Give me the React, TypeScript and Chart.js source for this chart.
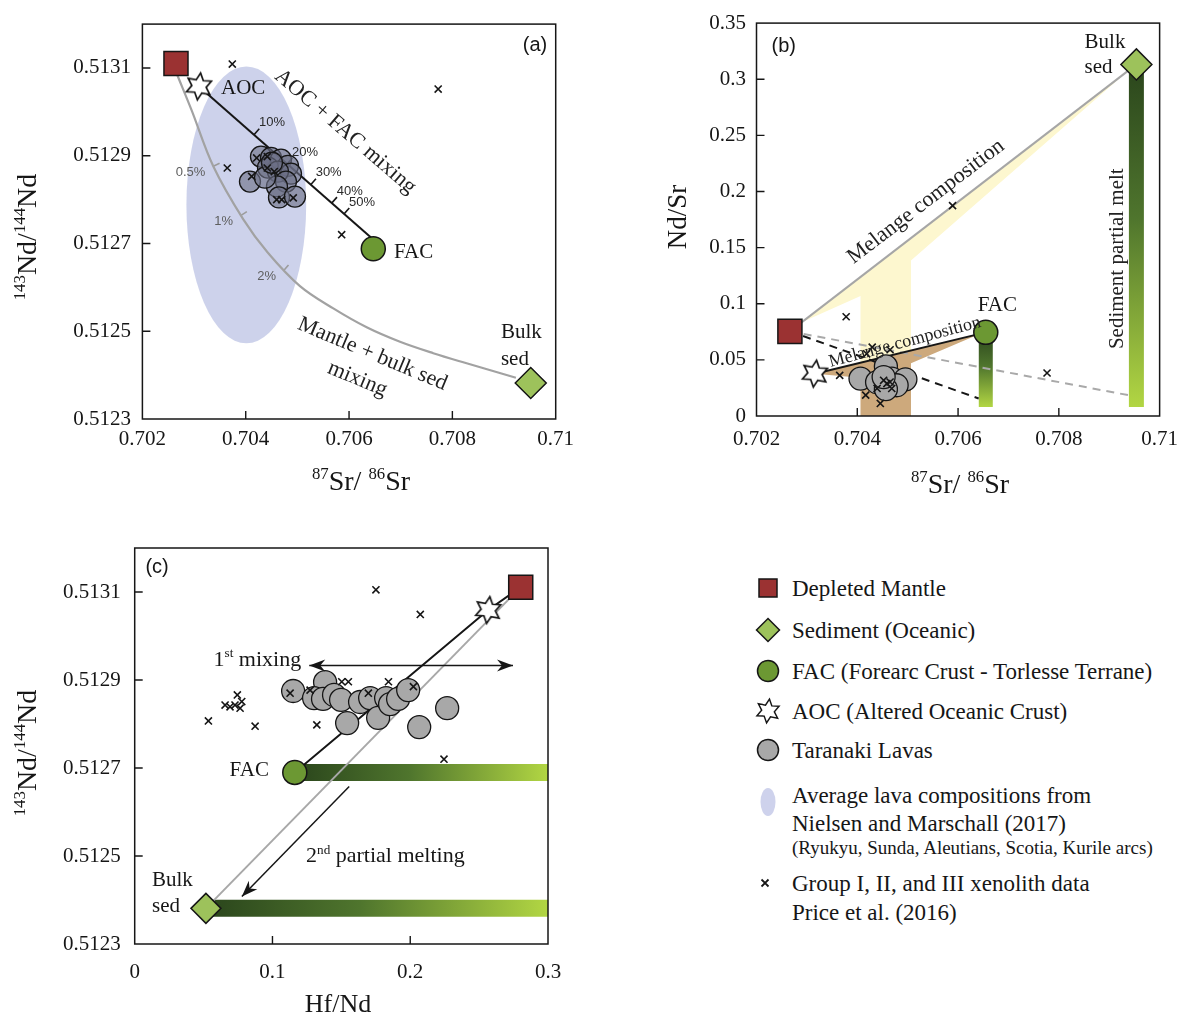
import React, { useEffect, useRef } from 'react';
import { Chart, registerables } from 'chart.js';

Chart.register(...registerables);

type Pt = { x: number; y: number };
type Mark = { x: number; y: number; label: string };

const SERIF = '"Liberation Serif", "Times New Roman", serif';
const SANS = '"Liberation Sans", Arial, sans-serif';
const INK = '#161616';

// ================= Panel (a): 87Sr/86Sr vs 143Nd/144Nd =================
const A_X_RANGE = [0.702, 0.71];
const A_Y_RANGE = [0.5123, 0.5132];
const A_X_TICKS = [0.702, 0.704, 0.706, 0.708, 0.71];
const A_Y_TICKS = [0.5123, 0.5125, 0.5127, 0.5129, 0.5131];
const A_DEPLETED_MANTLE: Pt[] = [{ x: 0.70265, y: 0.51311 }];
const A_SEDIMENT: Pt[] = [{ x: 0.709517, y: 0.512382 }];
const A_FAC: Pt[] = [{ x: 0.706469, y: 0.512688 }];
const A_AOC: Pt[] = [{ x: 0.703095, y: 0.513058 }];
const A_AOC_FAC_MIXING: Pt[] = [
  { x: 0.703095, y: 0.513058 },
  { x: 0.706469, y: 0.512709 },
];
const A_AOC_FAC_MARKS: Mark[] = [
  { x: 0.70416, y: 0.512948, label: '10%' },
  { x: 0.704799, y: 0.512881, label: '20%' },
  { x: 0.705257, y: 0.512834, label: '30%' },
  { x: 0.705664, y: 0.512792, label: '40%' },
  { x: 0.705902, y: 0.512767, label: '50%' },
];
const A_MANTLE_SED_MIXING: Pt[] = [
  { x: 0.702675, y: 0.513084 },
  { x: 0.702948, y: 0.513005 },
  { x: 0.703372, y: 0.512876 },
  { x: 0.703953, y: 0.512755 },
  { x: 0.704429, y: 0.512679 },
  { x: 0.70505, y: 0.512603 },
  { x: 0.705695, y: 0.512552 },
  { x: 0.706341, y: 0.512509 },
  { x: 0.706986, y: 0.512476 },
  { x: 0.70763, y: 0.51245 },
  { x: 0.708276, y: 0.512427 },
  { x: 0.70923, y: 0.512394 },
];
const A_MANTLE_SED_MARKS: Mark[] = [
  { x: 0.703372, y: 0.512876, label: '0.5%' },
  { x: 0.703908, y: 0.512764, label: '1%' },
  { x: 0.70474, y: 0.512639, label: '2%' },
];
const A_ARC_FIELD_CENTER: Pt = { x: 0.704011, y: 0.512788 };
const A_ARC_FIELD_HALF_WIDTHS: Pt = { x: 0.001159, y: 0.0003155 };
const A_LAVAS: Pt[] = [
  { x: 0.704295, y: 0.512898 },
  { x: 0.704489, y: 0.512895 },
  { x: 0.704682, y: 0.512891 },
  { x: 0.704818, y: 0.512877 },
  { x: 0.704876, y: 0.512859 },
  { x: 0.704431, y: 0.512873 },
  { x: 0.704624, y: 0.512864 },
  { x: 0.704779, y: 0.512841 },
  { x: 0.704082, y: 0.512841 },
  { x: 0.704605, y: 0.51283 },
  { x: 0.704373, y: 0.51285 },
  { x: 0.704644, y: 0.512805 },
  { x: 0.704953, y: 0.512807 },
  { x: 0.704508, y: 0.512884 },
];
const A_XENOLITHS: Pt[] = [
  { x: 0.70374, y: 0.513109 },
  { x: 0.707725, y: 0.513052 },
  { x: 0.703643, y: 0.512872 },
  { x: 0.705857, y: 0.51272 },
  { x: 0.704212, y: 0.512895 },
  { x: 0.704417, y: 0.512898 },
  { x: 0.704115, y: 0.512853 },
  { x: 0.704417, y: 0.512872 },
  { x: 0.704553, y: 0.512864 },
  { x: 0.704599, y: 0.5128 },
  { x: 0.704696, y: 0.5128 },
  { x: 0.70492, y: 0.512804 },
];

// ================= Panel (b): 87Sr/86Sr vs Nd/Sr =================
const B_X_RANGE = [0.702, 0.71];
const B_Y_RANGE = [0, 0.35];
const B_X_TICKS = [0.702, 0.704, 0.706, 0.708, 0.71];
const B_Y_TICKS = [0, 0.05, 0.1, 0.15, 0.2, 0.25, 0.3, 0.35];
const B_DEPLETED_MANTLE: Pt[] = [{ x: 0.702663, y: 0.0754 }];
const B_SEDIMENT: Pt[] = [{ x: 0.709539, y: 0.3132 }];
const B_FAC: Pt[] = [{ x: 0.70655, y: 0.0745 }];
const B_AOC: Pt[] = [{ x: 0.703159, y: 0.0377 }];
const B_SED_MELANGE_FIELD: Pt[] = [
  { x: 0.702888, y: 0.0832 },
  { x: 0.7094, y: 0.3084 },
  { x: 0.705066, y: 0.1385 },
  { x: 0.705066, y: 0.045 },
  { x: 0.704064, y: 0.045 },
  { x: 0.704064, y: 0.1069 },
];
const B_FAC_MELANGE_FIELD: Pt[] = [
  { x: 0.703159, y: 0.0377 },
  { x: 0.70645, y: 0.0734 },
  { x: 0.705066, y: 0.047 },
  { x: 0.705066, y: 0 },
  { x: 0.704064, y: 0 },
  { x: 0.704064, y: 0.034 },
];
const B_FAC_MELT_RANGE: Pt[] = [
  { x: 0.70655, y: 0.0745 },
  { x: 0.70655, y: 0.008 },
];
const B_SED_MELT_RANGE: Pt[] = [
  { x: 0.709539, y: 0.3132 },
  { x: 0.709539, y: 0.008 },
];
const B_DM_FAC_MELT_TREND: Pt[] = [
  { x: 0.702663, y: 0.0754 },
  { x: 0.706409, y: 0.0156 },
];
const B_DM_SED_MELT_TREND: Pt[] = [
  { x: 0.702663, y: 0.0754 },
  { x: 0.709374, y: 0.0186 },
];
const B_LAVAS: Pt[] = [
  { x: 0.704064, y: 0.0333 },
  { x: 0.704568, y: 0.0442 },
  { x: 0.704393, y: 0.0301 },
  { x: 0.704684, y: 0.0333 },
  { x: 0.704955, y: 0.0327 },
  { x: 0.704781, y: 0.0274 },
  { x: 0.704568, y: 0.0239 },
  { x: 0.704523, y: 0.0347 },
];
const B_XENOLITHS: Pt[] = [
  { x: 0.703779, y: 0.0884 },
  { x: 0.705891, y: 0.1874 },
  { x: 0.707766, y: 0.0383 },
  { x: 0.703651, y: 0.0362 },
  { x: 0.704186, y: 0.0554 },
  { x: 0.704296, y: 0.0613 },
  { x: 0.704651, y: 0.059 },
  { x: 0.704167, y: 0.0186 },
  { x: 0.704457, y: 0.0112 },
  { x: 0.704523, y: 0.0318 },
  { x: 0.704587, y: 0.0289 },
  { x: 0.704651, y: 0.0303 },
  { x: 0.704393, y: 0.0245 },
  { x: 0.704684, y: 0.0245 },
];

// ================= Panel (c): Hf/Nd vs 143Nd/144Nd =================
const C_X_RANGE = [0, 0.3];
const C_Y_RANGE = [0.5123, 0.5132];
const C_X_TICKS = [0, 0.1, 0.2, 0.3];
const C_Y_TICKS = [0.5123, 0.5125, 0.5127, 0.5129, 0.5131];
const C_DEPLETED_MANTLE: Pt[] = [{ x: 0.2802, y: 0.513111 }];
const C_AOC: Pt[] = [{ x: 0.2566, y: 0.513059 }];
const C_FAC: Pt[] = [{ x: 0.1162, y: 0.51269 }];
const C_SEDIMENT: Pt[] = [{ x: 0.0517, y: 0.512381 }];
const C_FAC_MELT_RANGE: Pt[] = [
  { x: 0.1162, y: 0.51269 },
  { x: 0.3, y: 0.51269 },
];
const C_SED_MELT_RANGE: Pt[] = [
  { x: 0.0517, y: 0.512381 },
  { x: 0.3, y: 0.512381 },
];
const C_FIRST_MIXING: Pt[] = [
  { x: 0.1267, y: 0.512933 },
  { x: 0.2746, y: 0.512933 },
];
const C_SECOND_MELTING: Pt[] = [
  { x: 0.1557, y: 0.512658 },
  { x: 0.0778, y: 0.512408 },
];
const C_LAVAS: Pt[] = [
  { x: 0.115, y: 0.512875 },
  { x: 0.1382, y: 0.512895 },
  { x: 0.1302, y: 0.512859 },
  { x: 0.1367, y: 0.512857 },
  { x: 0.1447, y: 0.512866 },
  { x: 0.1498, y: 0.512855 },
  { x: 0.1542, y: 0.512802 },
  { x: 0.1636, y: 0.51285 },
  { x: 0.1709, y: 0.512859 },
  { x: 0.1767, y: 0.512814 },
  { x: 0.1825, y: 0.512859 },
  { x: 0.1854, y: 0.512845 },
  { x: 0.1912, y: 0.512857 },
  { x: 0.1985, y: 0.512877 },
  { x: 0.2065, y: 0.512793 },
  { x: 0.2268, y: 0.512836 },
];
const C_XENOLITHS: Pt[] = [
  { x: 0.1751, y: 0.513105 },
  { x: 0.2073, y: 0.513049 },
  { x: 0.2245, y: 0.51272 },
  { x: 0.0745, y: 0.512866 },
  { x: 0.0656, y: 0.512843 },
  { x: 0.0692, y: 0.512839 },
  { x: 0.0728, y: 0.512843 },
  { x: 0.0777, y: 0.512851 },
  { x: 0.0765, y: 0.512836 },
  { x: 0.0535, y: 0.512807 },
  { x: 0.0874, y: 0.512795 },
  { x: 0.1322, y: 0.512798 },
  { x: 0.1128, y: 0.51287 },
  { x: 0.1273, y: 0.512877 },
  { x: 0.1503, y: 0.512896 },
  { x: 0.1551, y: 0.512896 },
  { x: 0.1696, y: 0.51287 },
  { x: 0.1842, y: 0.512896 },
  { x: 0.2023, y: 0.512885 },
];

// ================= Legend =================
const LEGEND_ENDMEMBERS = [
  'Depleted Mantle',
  'Sediment (Oceanic)',
  'FAC (Forearc Crust - Torlesse Terrane)',
  'AOC (Altered Oceanic Crust)',
  'Taranaki Lavas',
];
const LEGEND_FIELD = [
  'Average lava compositions from',
  'Nielsen and Marschall (2017)',
  '(Ryukyu, Sunda, Aleutians, Scotia, Kurile arcs)',
];
const LEGEND_XENO = ['Group I, II, and III xenolith data', 'Price et al. (2016)'];

// ================= Styles =================
const COL_DM = '#9b3232';
const COL_SED = '#9dc25b';
const COL_FAC = '#6c9833';
const COL_LAVA = '#a8a8a8';
const COL_FIELD = 'rgba(182,188,226,0.68)';

// ================= Helpers =================
function starPoints(cx: number, cy: number, R: number, r: number) {
  const pts: number[][] = [];
  for (let i = 0; i < 12; i++) {
    const rad = i % 2 === 0 ? R : r;
    const a = -Math.PI / 2 + 0.12 + (i * Math.PI) / 6;
    pts.push([cx + rad * Math.cos(a), cy + rad * Math.sin(a)]);
  }
  return pts;
}

function makeStar(): HTMLCanvasElement {
  const c = document.createElement('canvas');
  c.width = 32;
  c.height = 32;
  const g = c.getContext('2d') as CanvasRenderingContext2D;
  const pts = starPoints(16, 16, 13.5, 7.2);
  g.beginPath();
  pts.forEach((p, i) => (i === 0 ? g.moveTo(p[0], p[1]) : g.lineTo(p[0], p[1])));
  g.closePath();
  g.fillStyle = '#fff';
  g.fill();
  g.lineWidth = 1.7;
  g.strokeStyle = INK;
  g.stroke();
  return c;
}

function txt(
  ctx: CanvasRenderingContext2D,
  s: string,
  x: number,
  y: number,
  o: { size?: number; font?: string; color?: string; align?: CanvasTextAlign; rot?: number } = {}
) {
  ctx.save();
  ctx.translate(x, y);
  if (o.rot) ctx.rotate((o.rot * Math.PI) / 180);
  ctx.font = `${o.size ?? 21}px ${o.font ?? SERIF}`;
  ctx.fillStyle = o.color ?? INK;
  ctx.textAlign = o.align ?? 'left';
  ctx.textBaseline = 'middle';
  ctx.fillText(s, 0, 0);
  ctx.restore();
}

function rich(
  ctx: CanvasRenderingContext2D,
  parts: [string, boolean][],
  x: number,
  y: number,
  size: number,
  align: 'left' | 'center' = 'center',
  rot = 0
) {
  ctx.save();
  ctx.translate(x, y);
  if (rot) ctx.rotate((rot * Math.PI) / 180);
  const sup = size * 0.6;
  let w = 0;
  for (const [t, s] of parts) {
    ctx.font = `${s ? sup : size}px ${SERIF}`;
    w += ctx.measureText(t).width;
  }
  let cx = align === 'center' ? -w / 2 : 0;
  ctx.textBaseline = 'alphabetic';
  ctx.textAlign = 'left';
  ctx.fillStyle = INK;
  const base = size * 0.33;
  for (const [t, s] of parts) {
    ctx.font = `${s ? sup : size}px ${SERIF}`;
    ctx.fillText(t, cx, s ? base - size * 0.4 : base);
    cx += ctx.measureText(t).width;
  }
  ctx.restore();
}

function normal(x0: number, y0: number, x1: number, y1: number) {
  const dx = x1 - x0;
  const dy = y1 - y0;
  const L = Math.hypot(dx, dy) || 1;
  return [dy / L, -dx / L];
}

function drawFrame(chart: any) {
  const { ctx, chartArea: a, scales } = chart;
  ctx.save();
  ctx.strokeStyle = INK;
  ctx.lineWidth = 1.5;
  ctx.strokeRect(a.left, a.top, a.right - a.left, a.bottom - a.top);
  ctx.lineWidth = 1.4;
  ctx.beginPath();
  for (const t of scales.x.ticks) {
    const X = scales.x.getPixelForValue(t.value);
    if (X > a.left + 1 && X < a.right - 1) {
      ctx.moveTo(X, a.bottom);
      ctx.lineTo(X, a.bottom - 8);
    }
  }
  for (const t of scales.y.ticks) {
    const Y = scales.y.getPixelForValue(t.value);
    if (Y > a.top + 1 && Y < a.bottom - 1) {
      ctx.moveTo(a.left, Y);
      ctx.lineTo(a.left + 8, Y);
    }
  }
  ctx.stroke();
  ctx.restore();
}

function scaleOpts(range: number[], ticks: number[], isX: boolean, size: number, pad: number) {
  return {
    type: 'linear',
    min: range[0],
    max: range[1],
    afterBuildTicks: (s: any) => {
      s.ticks = ticks.map((v) => ({ value: v }));
    },
    afterFit: (s: any) => {
      if (isX) s.height = size;
      else s.width = size;
    },
    grid: { display: false, drawTicks: false },
    border: { display: false },
    ticks: {
      autoSkip: false,
      maxRotation: 0,
      minRotation: 0,
      padding: pad,
      color: INK,
      font: { family: SERIF, size: 21 },
      callback: (v: any) => String(+Number(v).toFixed(5)),
    },
  };
}

function markerDs(data: Pt[], style: any, radius: number, fill: string, order: number, bw = 1.5) {
  return {
    data,
    showLine: false,
    pointStyle: style,
    pointRadius: radius,
    pointHoverRadius: radius,
    pointBackgroundColor: fill,
    pointBorderColor: INK,
    pointBorderWidth: bw,
    pointHoverBorderWidth: bw,
    order,
  };
}

function lineDs(data: Pt[], color: any, width: number, order: number, dash: number[] = [], extra: any = {}) {
  return {
    data,
    showLine: true,
    borderColor: color,
    borderWidth: width,
    borderDash: dash,
    borderCapStyle: 'butt',
    pointRadius: 0,
    pointHoverRadius: 0,
    fill: false,
    tension: 0,
    order,
    ...extra,
  };
}

function meltGradient(range: Pt[], vertical: boolean) {
  return (c: any) => {
    const ch = c.chart;
    const s = vertical ? ch.scales?.y : ch.scales?.x;
    if (!s || !ch.chartArea) return '#4f7a2c';
    const p0 = vertical ? s.getPixelForValue(range[0].y) : s.getPixelForValue(range[0].x);
    const p1 = vertical ? s.getPixelForValue(range[1].y) : s.getPixelForValue(range[1].x);
    const g = vertical
      ? ch.ctx.createLinearGradient(0, p0, 0, p1)
      : ch.ctx.createLinearGradient(p0, 0, p1, 0);
    g.addColorStop(0, '#2a451c');
    g.addColorStop(0.45, '#4f752d');
    g.addColorStop(1, '#b2d643');
    return g;
  };
}

function baseConfig(datasets: any[], scales: any, padding: any, plugin: any) {
  return {
    type: 'scatter',
    data: { datasets },
    options: {
      animation: false,
      responsive: false,
      maintainAspectRatio: false,
      events: [],
      layout: { padding },
      plugins: { legend: { display: false }, tooltip: { enabled: false }, title: { display: false } },
      scales,
    },
    plugins: [plugin],
  } as any;
}

function polygon(ctx: CanvasRenderingContext2D, X: any, Y: any, pts: Pt[], fill: string) {
  ctx.beginPath();
  pts.forEach((p, i) => (i === 0 ? ctx.moveTo(X(p.x), Y(p.y)) : ctx.lineTo(X(p.x), Y(p.y))));
  ctx.closePath();
  ctx.fillStyle = fill;
  ctx.fill();
}

function arrowHead(ctx: CanvasRenderingContext2D, x: number, y: number, ang: number) {
  ctx.save();
  ctx.translate(x, y);
  ctx.rotate(ang);
  ctx.beginPath();
  ctx.moveTo(0, 0);
  ctx.lineTo(-16, -6);
  ctx.lineTo(-11, 0);
  ctx.lineTo(-16, 6);
  ctx.closePath();
  ctx.fill();
  ctx.restore();
}

function arrow(ctx: CanvasRenderingContext2D, X: any, Y: any, seg: Pt[], both: boolean) {
  const x0 = X(seg[0].x), y0 = Y(seg[0].y), x1 = X(seg[1].x), y1 = Y(seg[1].y);
  const ang = Math.atan2(y1 - y0, x1 - x0);
  ctx.strokeStyle = INK;
  ctx.fillStyle = INK;
  ctx.lineWidth = 1.5;
  ctx.beginPath();
  ctx.moveTo(x0, y0);
  ctx.lineTo(x1, y1);
  ctx.stroke();
  arrowHead(ctx, x1, y1, ang);
  if (both) arrowHead(ctx, x0, y0, ang + Math.PI);
}

const pxFns = (chart: any) => [
  (v: number) => chart.scales.x.getPixelForValue(v),
  (v: number) => chart.scales.y.getPixelForValue(v),
];

// ================= Panel configs =================
function configA(star: HTMLCanvasElement) {
  const plugin = {
    id: 'panelA',
    beforeDatasetsDraw(chart: any) {
      const { ctx, chartArea: a } = chart;
      const [X, Y] = pxFns(chart);
      ctx.save();
      ctx.beginPath();
      ctx.rect(a.left, a.top, a.right - a.left, a.bottom - a.top);
      ctx.clip();
      const cx = X(A_ARC_FIELD_CENTER.x);
      const cy = Y(A_ARC_FIELD_CENTER.y);
      const rx = Math.abs(X(A_ARC_FIELD_CENTER.x + A_ARC_FIELD_HALF_WIDTHS.x) - cx);
      const ry = Math.abs(Y(A_ARC_FIELD_CENTER.y + A_ARC_FIELD_HALF_WIDTHS.y) - cy);
      ctx.beginPath();
      ctx.ellipse(cx, cy, rx, ry, 0, 0, Math.PI * 2);
      ctx.fillStyle = COL_FIELD;
      ctx.fill();

      // percentage marks on AOC + FAC mixing line
      const p0 = A_AOC_FAC_MIXING[0];
      const p1 = A_AOC_FAC_MIXING[1];
      const [nx, ny] = normal(X(p0.x), Y(p0.y), X(p1.x), Y(p1.y));
      ctx.strokeStyle = INK;
      ctx.lineWidth = 1.6;
      for (const m of A_AOC_FAC_MARKS) {
        const px = X(m.x), py = Y(m.y);
        ctx.beginPath();
        ctx.moveTo(px, py);
        ctx.lineTo(px + nx * 8, py + ny * 8);
        ctx.stroke();
        txt(ctx, m.label, px + 5, py - 12, { size: 13, font: SANS, color: '#2a2a2a' });
      }
      // percentage marks on mantle + sediment curve
      ctx.strokeStyle = '#9c9c9c';
      for (const m of A_MANTLE_SED_MARKS) {
        let best = 0;
        let bd = Infinity;
        A_MANTLE_SED_MIXING.forEach((p, i) => {
          const d = Math.hypot(X(p.x) - X(m.x), Y(p.y) - Y(m.y));
          if (d < bd) {
            bd = d;
            best = i;
          }
        });
        const q0 = A_MANTLE_SED_MIXING[Math.max(0, best - 1)];
        const q1 = A_MANTLE_SED_MIXING[Math.min(A_MANTLE_SED_MIXING.length - 1, best + 1)];
        const [mx, my] = normal(X(q0.x), Y(q0.y), X(q1.x), Y(q1.y));
        const px = X(m.x), py = Y(m.y);
        ctx.beginPath();
        ctx.moveTo(px, py);
        ctx.lineTo(px + mx * 7, py + my * 7);
        ctx.stroke();
        txt(ctx, m.label, px - 8, py + 6, { size: 13, font: SANS, color: '#5e5e5e', align: 'right' });
      }
      ctx.restore();
    },
    afterDatasetsDraw(chart: any) {
      const { ctx, chartArea: a } = chart;
      const [X, Y] = pxFns(chart);
      txt(ctx, 'AOC', X(0.703521), Y(0.513053));
      txt(ctx, 'FAC', X(0.706869), Y(0.512679));
      txt(ctx, 'Bulk', X(0.70894), Y(0.512498));
      txt(ctx, 'sed', X(0.70894), Y(0.512436));
      txt(ctx, 'AOC + FAC mixing', X(0.705929), Y(0.512955), { size: 22, align: 'center', rot: 40.7, color: '#222' });
      txt(ctx, 'Mantle + bulk sed', X(0.706453), Y(0.512448), { size: 22, align: 'center', rot: 22.7, color: '#222' });
      txt(ctx, 'mixing', X(0.706163), Y(0.512391), { size: 22, align: 'center', rot: 22.7, color: '#222' });
      txt(ctx, '(a)', a.right - 8.5, a.top + 21, { size: 20, font: SANS, align: 'right' });
    },
    afterDraw(chart: any) {
      drawFrame(chart);
      const { ctx } = chart;
      rich(ctx, [['143', true], ['Nd/', false], ['144', true], ['Nd', false]], 27, 237, 28, 'center', -90);
      rich(ctx, [['87', true], ['Sr/ ', false], ['86', true], ['Sr', false]], 361, 481, 28, 'center');
    },
  };
  const datasets = [
    lineDs(A_MANTLE_SED_MIXING, '#a2a2a2', 2.2, 8, [], { tension: 0.35, cubicInterpolationMode: 'default' }),
    lineDs(A_AOC_FAC_MIXING, INK, 2, 7),
    markerDs(A_LAVAS, 'circle', 10.5, 'rgba(108,112,134,0.62)', 3, 1.3),
    markerDs(A_XENOLITHS, 'crossRot', 5, INK, 2, 1.6),
    markerDs(A_FAC, 'circle', 12, COL_FAC, 0),
    markerDs(A_SEDIMENT, 'rectRot', 15.5, COL_SED, 0),
    markerDs(A_DEPLETED_MANTLE, 'rect', 17, COL_DM, 0),
    markerDs(A_AOC, star, 14, '#fff', 0),
  ];
  const scales = {
    x: scaleOpts(A_X_RANGE, A_X_TICKS, true, 81, 8),
    y: scaleOpts(A_Y_RANGE, A_Y_TICKS, false, 142.4, 11.5),
  };
  return baseConfig(datasets, scales, { left: 0, top: 24, right: 44.3, bottom: 0 }, plugin);
}

function configB(star: HTMLCanvasElement) {
  const plugin = {
    id: 'panelB',
    beforeDatasetsDraw(chart: any) {
      const { ctx, chartArea: a } = chart;
      const [X, Y] = pxFns(chart);
      ctx.save();
      ctx.beginPath();
      ctx.rect(a.left, a.top, a.right - a.left, a.bottom - a.top);
      ctx.clip();
      polygon(ctx, X, Y, B_SED_MELANGE_FIELD, '#fdf7cf');
      polygon(ctx, X, Y, B_FAC_MELANGE_FIELD, '#cda97c');
      ctx.restore();
    },
    afterDatasetsDraw(chart: any) {
      const { ctx, chartArea: a } = chart;
      const [X, Y] = pxFns(chart);
      txt(ctx, '(b)', a.left + 15, a.top + 23, { size: 20, font: SANS });
      txt(ctx, 'Bulk', X(0.708511), Y(0.3323));
      txt(ctx, 'sed', X(0.708511), Y(0.3102));
      txt(ctx, 'FAC', X(0.70678), Y(0.0985), { align: 'center' });
      txt(ctx, 'Melange composition', X(0.705364), Y(0.1909), { size: 22, align: 'center', rot: -37.4, color: '#222' });
      txt(ctx, 'Melange composition', X(0.704946), Y(0.0657), { size: 18, align: 'center', rot: -15, color: '#222' });
      txt(ctx, 'Sediment partial melt', X(0.709155), Y(0.1401), { size: 21, align: 'center', rot: -90, color: '#222' });
    },
    afterDraw(chart: any) {
      drawFrame(chart);
      const { ctx } = chart;
      rich(ctx, [['Nd/Sr', false]], 77, 217, 27, 'center', -90);
      rich(ctx, [['87', true], ['Sr/ ', false], ['86', true], ['Sr', false]], 360, 484, 28, 'center');
    },
  };
  const datasets = [
    lineDs(B_FAC_MELT_RANGE, meltGradient(B_FAC_MELT_RANGE, true), 14, 9),
    lineDs(B_SED_MELT_RANGE, meltGradient(B_SED_MELT_RANGE, true), 15, 9),
    lineDs([B_DEPLETED_MANTLE[0], B_SEDIMENT[0]], '#a6a6a6', 2, 8),
    lineDs(B_DM_SED_MELT_TREND, '#a9a9a9', 2, 8, [8, 6]),
    lineDs(B_DM_FAC_MELT_TREND, INK, 2, 8, [8, 6]),
    lineDs([B_AOC[0], B_FAC[0]], INK, 2, 7),
    markerDs(B_LAVAS, 'circle', 11.5, COL_LAVA, 3, 1.3),
    markerDs(B_XENOLITHS, 'crossRot', 5, INK, 2, 1.6),
    markerDs(B_FAC, 'circle', 12, COL_FAC, 0),
    markerDs(B_SEDIMENT, 'rectRot', 15.5, COL_SED, 0),
    markerDs(B_DEPLETED_MANTLE, 'rect', 17, COL_DM, 0),
    markerDs(B_AOC, star, 14, '#fff', 0),
  ];
  const scales = {
    x: scaleOpts(B_X_RANGE, B_X_TICKS, true, 84, 11),
    y: scaleOpts(B_Y_RANGE, B_Y_TICKS, false, 156.5, 10.5),
  };
  return baseConfig(datasets, scales, { left: 0, top: 20, right: 19, bottom: 0 }, plugin);
}

function configC(star: HTMLCanvasElement) {
  const plugin = {
    id: 'panelC',
    afterDatasetsDraw(chart: any) {
      const { ctx, chartArea: a } = chart;
      const [X, Y] = pxFns(chart);
      ctx.save();
      arrow(ctx, X, Y, C_FIRST_MIXING, true);
      arrow(ctx, X, Y, C_SECOND_MELTING, false);
      ctx.restore();
      txt(ctx, '(c)', a.left + 10.7, a.top + 19, { size: 20, font: SANS });
      rich(ctx, [['1', false], ['st', true], [' mixing', false]], X(0.0572), Y(0.512949), 22, 'left');
      rich(ctx, [['2', false], ['nd', true], [' partial melting', false]], X(0.1244), Y(0.512502), 22, 'left');
      txt(ctx, 'FAC', X(0.0689), Y(0.512694));
      txt(ctx, 'Bulk', X(0.01256), Y(0.512445));
      txt(ctx, 'sed', X(0.01256), Y(0.512386));
    },
    afterDraw(chart: any) {
      drawFrame(chart);
      const { ctx } = chart;
      rich(ctx, [['143', true], ['Nd/', false], ['144', true], ['Nd', false]], 27, 253, 28, 'center', -90);
      rich(ctx, [['Hf/Nd', false]], 338, 503, 26, 'center');
    },
  };
  const datasets = [
    lineDs(C_FAC_MELT_RANGE, meltGradient(C_FAC_MELT_RANGE, false), 17, 9),
    lineDs(C_SED_MELT_RANGE, meltGradient(C_SED_MELT_RANGE, false), 17, 9),
    lineDs([C_SEDIMENT[0], C_DEPLETED_MANTLE[0]], '#a8a8a8', 2, 8),
    lineDs([C_FAC[0], C_AOC[0], C_DEPLETED_MANTLE[0]], INK, 2, 7),
    markerDs(C_LAVAS, 'circle', 11.5, COL_LAVA, 3, 1.3),
    markerDs(C_XENOLITHS, 'crossRot', 5, INK, 2, 1.6),
    markerDs(C_FAC, 'circle', 12, COL_FAC, 0),
    markerDs(C_SEDIMENT, 'rectRot', 15, COL_SED, 0),
    markerDs(C_DEPLETED_MANTLE, 'rect', 17, COL_DM, 0),
    markerDs(C_AOC, star, 14, '#fff', 0),
  ];
  const scales = {
    x: scaleOpts(C_X_RANGE, C_X_TICKS, true, 70, 16),
    y: scaleOpts(C_Y_RANGE, C_Y_TICKS, false, 134.7, 14),
  };
  return baseConfig(datasets, scales, { left: 0, top: 48, right: 52, bottom: 0 }, plugin);
}

// ================= Legend =================
function LegendIcon({ kind }: { kind: string }) {
  const common = { stroke: INK, strokeWidth: 1.5 };
  let shape: any = null;
  if (kind === 'dm') shape = <rect x={6} y={6} width={18} height={18} fill={COL_DM} {...common} />;
  if (kind === 'sed') shape = <polygon points="15,3.5 26.5,15 15,26.5 3.5,15" fill={COL_SED} {...common} />;
  if (kind === 'fac') shape = <circle cx={15} cy={15} r={10.5} fill={COL_FAC} {...common} />;
  if (kind === 'aoc')
    shape = (
      <polygon
        points={starPoints(15, 15, 12, 6.4)
          .map((p) => p.join(','))
          .join(' ')}
        fill="#fff"
        {...common}
      />
    );
  if (kind === 'lava') shape = <circle cx={15} cy={15} r={10.5} fill={COL_LAVA} {...common} />;
  if (kind === 'field') shape = <ellipse cx={15} cy={15} rx={7.5} ry={14} fill="rgb(206,210,236)" />;
  if (kind === 'xeno')
    shape = (
      <path d="M11.5,11.5 L18.5,18.5 M18.5,11.5 L11.5,18.5" stroke={INK} strokeWidth={1.8} fill="none" />
    );
  return (
    <svg width={30} height={30} viewBox="0 0 30 30" style={{ position: 'absolute', display: 'block' }}>
      {shape}
    </svg>
  );
}

function LegendText({ text, y, size }: { text: string; y: number; size: number }) {
  return (
    <div
      style={{
        position: 'absolute',
        left: 792,
        top: y - size / 2,
        fontFamily: SERIF,
        fontSize: size,
        lineHeight: `${size}px`,
        whiteSpace: 'nowrap',
        color: INK,
      }}
    >
      {text}
    </div>
  );
}

function Legend() {
  const kinds = ['dm', 'sed', 'fac', 'aoc', 'lava'];
  const rows = [588, 630, 671, 711, 750];
  return (
    <>
      {LEGEND_ENDMEMBERS.map((t, i) => (
        <React.Fragment key={t}>
          <div style={{ position: 'absolute', left: 753, top: rows[i] - 15, width: 30, height: 30 }}>
            <LegendIcon kind={kinds[i]} />
          </div>
          <LegendText text={t} y={rows[i]} size={23} />
        </React.Fragment>
      ))}
      <div style={{ position: 'absolute', left: 753, top: 802 - 15, width: 30, height: 30 }}>
        <LegendIcon kind="field" />
      </div>
      <LegendText text={LEGEND_FIELD[0]} y={795} size={23} />
      <LegendText text={LEGEND_FIELD[1]} y={823} size={23} />
      <LegendText text={LEGEND_FIELD[2]} y={847} size={19} />
      <div style={{ position: 'absolute', left: 750, top: 883 - 15, width: 30, height: 30 }}>
        <LegendIcon kind="xeno" />
      </div>
      <LegendText text={LEGEND_XENO[0]} y={883} size={23} />
      <LegendText text={LEGEND_XENO[1]} y={912} size={23} />
    </>
  );
}

export default function App() {
  const refA = useRef<HTMLCanvasElement>(null);
  const refB = useRef<HTMLCanvasElement>(null);
  const refC = useRef<HTMLCanvasElement>(null);

  useEffect(() => {
    const star = makeStar();
    const charts = [
      new Chart(refA.current as HTMLCanvasElement, configA(star)),
      new Chart(refB.current as HTMLCanvasElement, configB(star)),
      new Chart(refC.current as HTMLCanvasElement, configC(star)),
    ];
    return () => charts.forEach((c) => c.destroy());
  }, []);

  return (
    <div
      style={{
        position: 'absolute',
        left: 0,
        top: 0,
        width: 1189,
        height: 1014,
        background: '#fff',
        overflow: 'hidden',
      }}
    >
      <canvas ref={refA} width={600} height={500} style={{ position: 'absolute', left: 0, top: 0 }} />
      <canvas ref={refB} width={589} height={500} style={{ position: 'absolute', left: 600, top: 0 }} />
      <canvas ref={refC} width={600} height={514} style={{ position: 'absolute', left: 0, top: 500 }} />
      <Legend />
    </div>
  );
}
